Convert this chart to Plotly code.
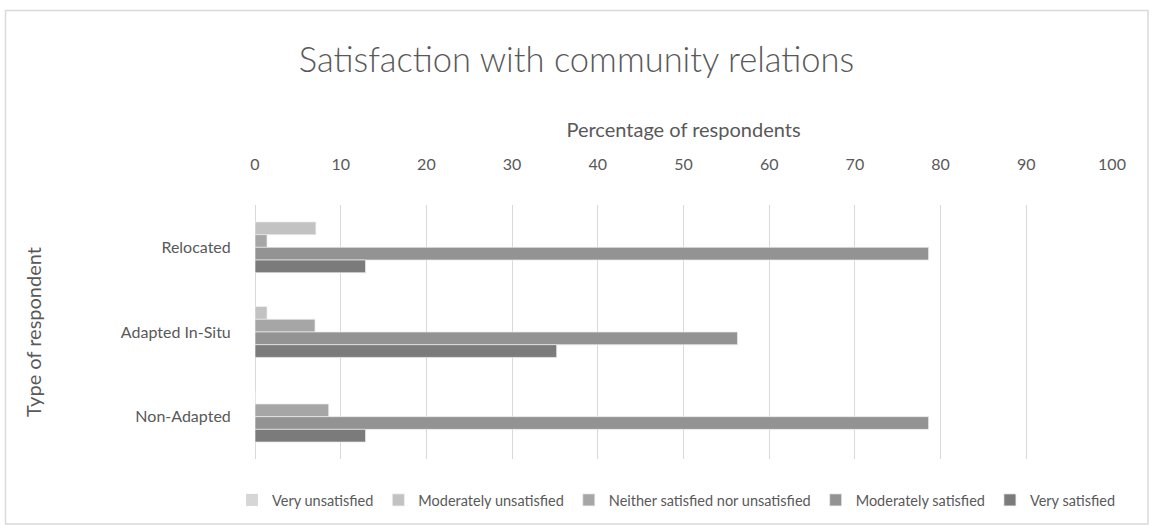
import plotly.graph_objects as go

categories = ["Relocated", "Adapted In-Situ", "Non-Adapted"]
series_names = ["Very unsatisfied", "Moderately unsatisfied",
                "Neither satisfied nor unsatisfied", "Moderately satisfied", "Very satisfied"]
very_unsatisfied = [0, 0, 0]
moderately_unsatisfied = [7.1, 1.4, 0]
neither = [1.4, 7.0, 8.6]
moderately_satisfied = [78.6, 56.3, 78.6]
very_satisfied = [12.9, 35.2, 12.9]
x_ticks = [0, 10, 20, 30, 40, 50, 60, 70, 80, 90, 100]

colors = ["#d6d6d6", "#c2c2c2", "#a6a6a6", "#939393", "#7b7b7b"]
offset_groups = ["g1", "g1", "g2", "g3", "g4"]
values = [very_unsatisfied, moderately_unsatisfied, neither, moderately_satisfied, very_satisfied]

FONT = "Lato"
TXT = "#595959"

fig = go.Figure()
for i, (name, vals, col, og) in enumerate(zip(series_names, values, colors, offset_groups)):
    fig.add_trace(go.Bar(
        y=categories, x=vals, name=name, orientation="h",
        offsetgroup=og,
        marker=dict(color=col, line=dict(color="rgba(235,235,235,0.9)", width=0 if i == 0 else 0.8)),
    ))

# plot area in pixels
L, R, T, B = 255, 1112, 205, 459
W, H = 1153, 531

def px_x(p):
    return (p - L) / (R - L)

def px_y(p):
    return (B - p) / (B - T)

fig.update_layout(
    width=W, height=H,
    margin=dict(l=L, r=W - R, t=T, b=H - B, autoexpand=False),
    paper_bgcolor="white", plot_bgcolor="white",
    barmode="group", bargap=0.4, bargroupgap=0,
    font=dict(family=FONT, color=TXT, size=15),
    title=dict(text="Satisfaction with community relations", x=0.5, xanchor="center",
               xref="container", y=1 - 60 / H, yref="container", yanchor="middle",
               font=dict(family=FONT, size=34.5, color=TXT, weight=300)),
    xaxis=dict(side="top", range=[0, 100], tickvals=x_ticks, ticktext=[str(v) for v in x_ticks],
               showgrid=True, gridcolor="#d9d9d9", gridwidth=1,
               zeroline=True, zerolinecolor="#d9d9d9", zerolinewidth=1,
               showline=False, ticks="outside", ticklen=28, tickcolor="rgba(0,0,0,0)",
               tickfont=dict(size=16, color=TXT),
               title=dict(text="Percentage of respondents", font=dict(size=20, color=TXT), standoff=10)),
    yaxis=dict(autorange="reversed", showgrid=False, zeroline=False, showline=False,
               ticks="outside", ticklen=20, tickcolor="rgba(0,0,0,0)",
               tickfont=dict(size=16, color=TXT),
               title=dict(text="Type of respondent", font=dict(size=20, color=TXT), standoff=73)),
    legend=dict(orientation="h", x=px_x(232), xanchor="left",
                y=px_y(500), yanchor="middle", bgcolor="rgba(0,0,0,0)",
                font=dict(size=14.5, color=TXT), itemwidth=30, traceorder="normal"),
    showlegend=True,
)

fig.add_shape(type="rect", xref="paper", yref="paper",
              x0=px_x(5.5), x1=px_x(1148), y0=px_y(524), y1=px_y(10.5),
              line=dict(color="#d9d9d9", width=1.5), fillcolor="rgba(0,0,0,0)", layer="below")

fig.write_html("out.html")
